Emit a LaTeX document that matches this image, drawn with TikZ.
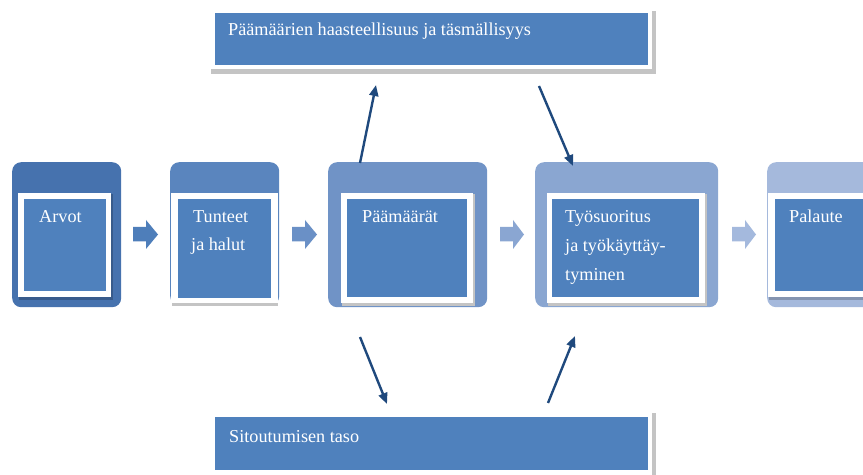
\documentclass[tikz,border=0pt]{standalone}
\usepackage{fontspec}
\setmainfont{Liberation Serif}
\usetikzlibrary{arrows.meta}
\definecolor{inblue}{HTML}{4F81BD}
\definecolor{oa}{HTML}{4672AE}
\definecolor{ob}{HTML}{5A85BE}
\definecolor{oc}{HTML}{7093C6}
\definecolor{od}{HTML}{8AA6D1}
\definecolor{oe}{HTML}{A5B9DC}
\definecolor{aa}{HTML}{4E7EBA}
\definecolor{ab}{HTML}{6A90C6}
\definecolor{ac}{HTML}{8AA6D2}
\definecolor{ad}{HTML}{A4B9DD}
\definecolor{navy}{HTML}{1F497D}
\definecolor{shade}{HTML}{C4C4C4}
\tikzset{
  outerbox/.style={rounded corners=9bp, inner sep=0pt, draw=none, anchor=north west},
  framebox/.style={fill=white, inner sep=0pt, draw=none, anchor=north west},
  shadowbox/.style={fill=shade, inner sep=0pt, draw=none, anchor=north west},
  bluebox/.style={fill=inblue, inner sep=0pt, draw=none, anchor=north west},
  txt/.style={text=white, font=\fontsize{18.2bp}{29bp}\selectfont, inner sep=0pt, anchor=base west},
  link/.style={draw=navy, line width=2.4bp, -{Triangle[length=11bp,width=9bp]}},
}
\newcommand\blockarrow[3]{%
  \fill[#3] (#1,227) -- ({#1+13},227) -- ({#1+13},220) -- (#2,234.5) -- ({#1+13},249) -- ({#1+13},241.5) -- (#1,241.5) -- cycle;}
\begin{document}
\begin{tikzpicture}[x=1bp,y=-1bp]
\useasboundingbox (0,0) rectangle (863,475);
\clip (0,0) rectangle (863,475);

% top box
\node[shadowbox, minimum width=445bp, minimum height=63bp] (tsh) at (211,11) {};
\node[framebox, minimum width=442bp, minimum height=60bp] (tfr) at (210,9) {};
\node[bluebox, minimum width=433bp, minimum height=52bp] (top) at (215,13) {};
\node[txt] (ttop) at (228,36) {Päämäärien haasteellisuus ja täsmällisyys};

% bottom box
\node[shadowbox, minimum width=445bp, minimum height=64bp] (bsh) at (211,413) {};
\node[framebox, minimum width=442bp, minimum height=64bp] (bfr) at (210,412) {};
\node[bluebox, minimum width=433bp, minimum height=53bp] (bot) at (215,417) {};
\node[txt] (tbot) at (229,442) {Sitoutumisen taso};

% box 1
\node[outerbox, fill=oa, minimum width=109bp, minimum height=145bp] (o1) at (12,162) {};
\node[shadowbox, fill=oa!80!black, minimum width=94bp, minimum height=106bp] (s1) at (19,194) {};
\node[framebox, minimum width=93bp, minimum height=104bp] (f1) at (18,193) {};
\node[bluebox, minimum width=82bp, minimum height=92bp] (b1) at (24,199) {};
\node[txt] (t1) at (39,223) {Arvot};

% box 2
\node[outerbox, fill=ob, minimum width=109bp, minimum height=143bp] (o2) at (170,162) {};
\node[shadowbox, minimum width=106bp, minimum height=112bp] (s2) at (172,194) {};
\node[framebox, minimum width=107bp, minimum height=110bp] (f2) at (171,193) {};
\node[bluebox, minimum width=93bp, minimum height=99bp] (b2) at (178,199) {};
\node[txt] (t2a) at (193,223) {Tunteet};
\node[txt] (t2b) at (191,251) {ja halut};

% box 3
\node[outerbox, fill=oc, minimum width=159bp, minimum height=145bp] (o3) at (328,162) {};
\node[shadowbox, minimum width=133bp, minimum height=112bp] (s3) at (342,194) {};
\node[framebox, minimum width=132bp, minimum height=110bp] (f3) at (341,193) {};
\node[bluebox, minimum width=120bp, minimum height=98bp] (b3) at (347,199) {};
\node[txt] (t3) at (362,223) {Päämäärät};

% box 4
\node[outerbox, fill=od, minimum width=183bp, minimum height=145bp] (o4) at (535,162) {};
\node[shadowbox, minimum width=159bp, minimum height=112bp] (s4) at (548,194) {};
\node[framebox, minimum width=158bp, minimum height=110bp] (f4) at (547,193) {};
\node[bluebox, minimum width=147bp, minimum height=98bp] (b4) at (552,199) {};
\node[txt] (t4a) at (565,223) {Työsuoritus};
\node[txt] (t4b) at (565,252) {ja työkäyttäy-};
\node[txt] (t4c) at (565,281) {tyminen};

% box 5
\node[outerbox, fill=oe, minimum width=120bp, minimum height=145bp] (o5) at (767,162) {};
\node[shadowbox, fill=oe!80!black, minimum width=110bp, minimum height=106bp] (s5) at (769,194) {};
\node[framebox, minimum width=110bp, minimum height=104bp] (f5) at (768,193) {};
\node[bluebox, minimum width=100bp, minimum height=92bp] (b5) at (775,199) {};
\node[txt] (t5) at (789,223) {Palaute};

% block arrows
\blockarrow{133}{158}{aa}
\blockarrow{292}{317}{ab}
\blockarrow{500}{524}{ac}
\blockarrow{732}{756}{ad}

% line arrows
\coordinate (a1s) at (360,163);
\coordinate (a1e) at (376,85);
\coordinate (a2s) at (539,86);
\coordinate (a2e) at (573,166);
\coordinate (a3s) at (360,337);
\coordinate (a3e) at (387,404);
\coordinate (a4s) at (548,403);
\coordinate (a4e) at (575,336);
\draw[link] (a1s) -- (a1e);
\draw[link] (a2s) -- (a2e);
\draw[link] (a3s) -- (a3e);
\draw[link] (a4s) -- (a4e);
\end{tikzpicture}
\end{document}
